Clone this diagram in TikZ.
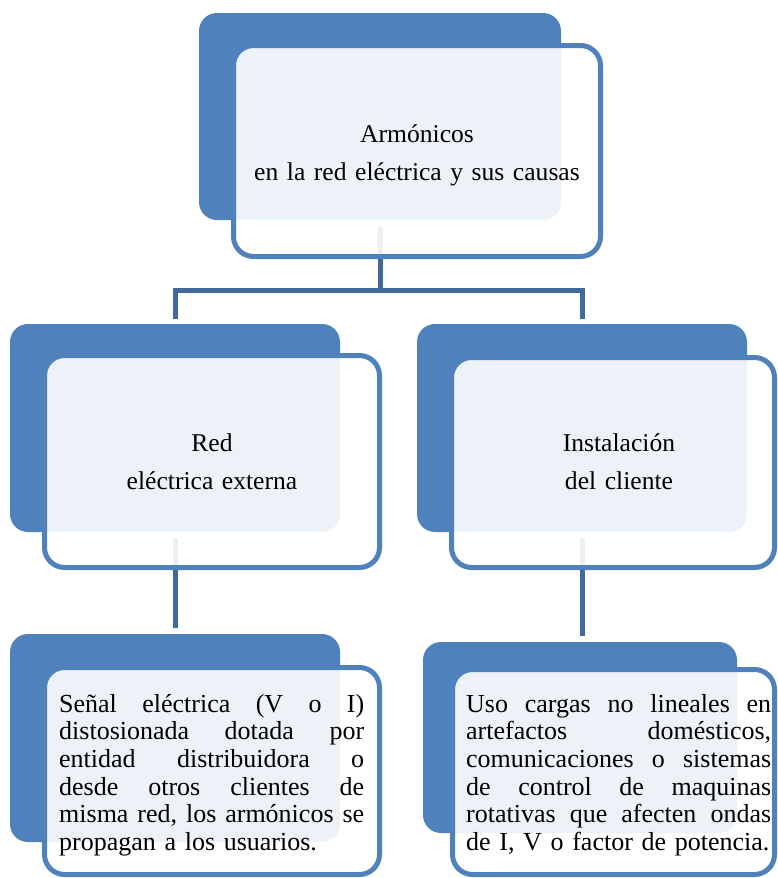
\documentclass[tikz,border=0pt]{standalone}
\usepackage{fontspec}
\setmainfont{Liberation Serif}
\definecolor{darkbox}{HTML}{4F81BD}
\definecolor{connc}{HTML}{41699B}
\newcommand{\jline}[1]{\leavevmode\hbox to 305pt{#1}}
\begin{document}
\begin{tikzpicture}[x=1pt,y=-1pt,
  backbox/.style={fill=darkbox, rounded corners=18pt, inner sep=0pt, outer sep=0pt},
  frontbox/.style={draw=darkbox, line width=5pt, fill=white, fill opacity=0.9, rounded corners=20pt, inner sep=0pt, outer sep=0pt},
  conn/.style={draw=connc, line width=5pt},
  headtxt/.style={font=\fontsize{25.6}{38.5}\selectfont, align=center, inner sep=0pt, anchor=base},
  bodytxt/.style={font=\fontsize{26}{27.7}\selectfont, align=left, inner sep=0pt, anchor=base west, text width=340pt}]
\useasboundingbox[fill=white] (0,0) rectangle (777,878);

% back boxes
\node[backbox, minimum width=362pt, minimum height=207pt] (d0) at (380,116.5) {};
\node[backbox, minimum width=330pt, minimum height=208pt] (d1) at (175,428) {};
\node[backbox, minimum width=330pt, minimum height=208pt] (d2) at (582,428) {};
\node[backbox, minimum width=330pt, minimum height=208pt] (d3) at (175,738) {};
\node[backbox, minimum width=314pt, minimum height=191pt] (d4) at (580,737.5) {};

% connectors
\coordinate (split) at ([yshift=-70pt]d0.south);
\draw[conn] ([yshift=-7pt]d0.south) -- (split) -| ([yshift=5pt]d1.north);
\draw[conn] (split) -| ([yshift=5pt]d2.north);
\draw[conn] ([yshift=-6pt]d1.south) -- ([yshift=6pt]d3.north);
\draw[conn] ([yshift=-6pt]d2.south) -- ([yshift=6pt]d2.south |- d4.north);

% front boxes
\node[frontbox, minimum width=367pt, minimum height=211pt] (f0) at (417,151) {};
\node[frontbox, minimum width=335pt, minimum height=212pt] (f1) at (212,461.5) {};
\node[frontbox, minimum width=323pt, minimum height=210pt] (f2) at (613,462.5) {};
\node[frontbox, minimum width=335pt, minimum height=207pt] (f3) at (212,771) {};
\node[frontbox, minimum width=322pt, minimum height=205pt] (f4) at (613.5,772) {};

% texts
\node[headtxt, text width=372pt] (t0) at (417,142) {Armónicos\\en la red eléctrica y sus causas};
\node[headtxt, text width=330pt] (t1) at (212,451) {Red\\eléctrica externa};
\node[headtxt, text width=320pt] (t2) at (619,451) {Instalación\\del cliente};
\node[bodytxt] (t3) at (59,712) {\jline{Señal\hfill eléctrica\hfill (V\hfill o\hfill I)}\\
\jline{distosionada\hfill dotada\hfill por}\\
\jline{entidad\hfill distribuidora\hfill o}\\
\jline{desde\hfill otros\hfill clientes\hfill de}\\
\jline{misma\hfill red,\hfill los\hfill armónicos\hfill se}\\
propagan a los usuarios.};
\node[bodytxt] (t4) at (466,712) {\jline{Uso\hfill cargas\hfill no\hfill lineales\hfill en}\\
\jline{artefactos\hfill domésticos,}\\
\jline{comunicaciones\hfill o\hfill sistemas}\\
\jline{de\hfill control\hfill de\hfill maquinas}\\
\jline{rotativas\hfill que\hfill afecten\hfill ondas}\\
de I, V o factor de potencia.};
\end{tikzpicture}
\end{document}
